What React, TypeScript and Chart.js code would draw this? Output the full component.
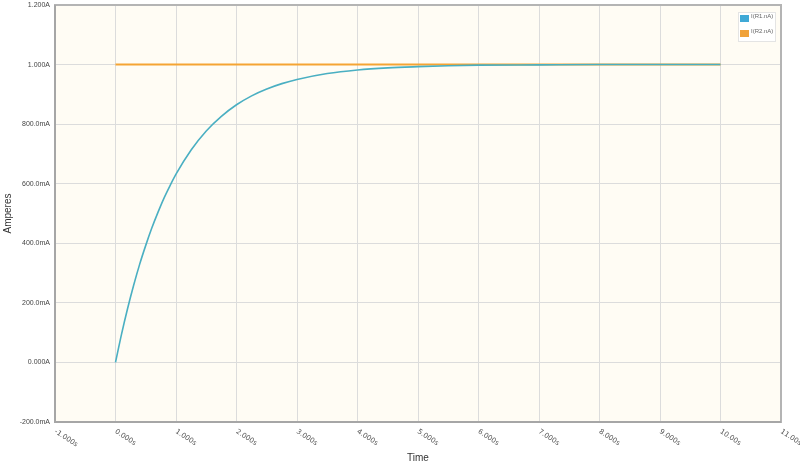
import React, { useEffect, useRef } from "react";
import { Chart, registerables } from "chart.js";

Chart.register(...registerables);

const timeR1 = [0, 0.1, 0.2, 0.3, 0.4, 0.5, 0.6, 0.7, 0.8, 0.9, 1.0, 1.25, 1.5, 1.75, 2.0, 2.25, 2.5, 2.75, 3.0, 3.5, 4.0, 4.5, 5.0, 5.5, 6.0, 7.0, 8.0, 9.0, 10.0];
const currentR1 = [0, 0.095, 0.181, 0.259, 0.33, 0.393, 0.451, 0.503, 0.551, 0.593, 0.632, 0.713, 0.777, 0.826, 0.865, 0.895, 0.918, 0.936, 0.95, 0.97, 0.982, 0.989, 0.993, 0.996, 0.998, 0.999, 1.0, 1.0, 1.0];
const timeR2 = [0, 10];
const currentR2 = [1.0, 1.0];
const seriesLabels = ["I(R1.nA)", "I(R2.nA)"];

const xTickValues = [-1, 0, 1, 2, 3, 4, 5, 6, 7, 8, 9, 10, 11];
const xTickLabels = ["-1.000s", "0.000s", "1.000s", "2.000s", "3.000s", "4.000s", "5.000s", "6.000s", "7.000s", "8.000s", "9.000s", "10.00s", "11.00s"];
const yTickValues = [-0.2, 0, 0.2, 0.4, 0.6, 0.8, 1.0, 1.2];
const yTickLabels = ["-200.0mA", "0.000A", "200.0mA", "400.0mA", "600.0mA", "800.0mA", "1.000A", "1.200A"];

const lineColors = ["#4AAFC2", "#F5A433"];
const legendColors = ["#3FA9D6", "#F0A23A"];

function labelFor(values: number[], labels: string[], v: number) {
  const i = values.findIndex((t) => Math.abs(t - v) < 1e-6);
  return i >= 0 ? labels[i] : "";
}

const framePlugin = {
  id: "frameAndExtras",
  beforeDraw(chart: any) {
    const { ctx, chartArea: a } = chart;
    ctx.save();
    ctx.fillStyle = "#FFFCF4";
    ctx.fillRect(a.left, a.top, a.right - a.left, a.bottom - a.top);
    ctx.restore();
  },
  afterDraw(chart: any) {
    const { ctx, chartArea: a } = chart;
    ctx.save();
    ctx.strokeStyle = "#B4B4B4";
    ctx.lineWidth = 2;
    ctx.strokeRect(a.left, a.top, a.right - a.left, a.bottom - a.top);
    ctx.strokeStyle = "#A6A6A6";
    ctx.beginPath();
    ctx.moveTo(a.left, a.top);
    ctx.lineTo(a.left, a.bottom);
    ctx.lineTo(a.right, a.bottom);
    ctx.stroke();

    const xs = chart.scales.x;
    ctx.fillStyle = "#555";
    ctx.font = "7px 'DejaVu Sans'";
    ctx.textAlign = "left";
    ctx.textBaseline = "middle";
    xTickValues.forEach((v, i) => {
      const px = xs.getPixelForValue(v);
      ctx.save();
      ctx.translate(px, a.bottom + 9);
      ctx.rotate((33 * Math.PI) / 180);
      ctx.fillText(xTickLabels[i], 0, 0);
      ctx.restore();
    });

    const lx = a.right - 43;
    const ly = a.top + 7;
    ctx.fillStyle = "#FFFFFF";
    ctx.fillRect(lx, ly, 37, 29);
    ctx.strokeStyle = "#E4E4E4";
    ctx.lineWidth = 1;
    ctx.strokeRect(lx + 0.5, ly + 0.5, 37, 29);
    ctx.font = "6px 'Liberation Sans'";
    ctx.textBaseline = "middle";
    seriesLabels.forEach((lab, i) => {
      const y = ly + 3 + i * 15;
      ctx.fillStyle = legendColors[i];
      ctx.fillRect(lx + 2, y, 9, 7);
      ctx.fillStyle = "#666";
      ctx.fillText(lab, lx + 13, y + 1);
    });
    ctx.restore();
  },
};

export default function App() {
  const ref = useRef<HTMLCanvasElement | null>(null);
  useEffect(() => {
    document.body.style.margin = "0";
    const canvas = ref.current!;
    const chart = new Chart(canvas, {
      type: "line",
      data: {
        datasets: [
          {
            label: seriesLabels[0],
            data: timeR1.map((t, i) => ({ x: t, y: currentR1[i] })),
            borderColor: lineColors[0],
            borderWidth: 1.6,
            pointRadius: 0,
            cubicInterpolationMode: "monotone",
            fill: false,
          },
          {
            label: seriesLabels[1],
            data: timeR2.map((t, i) => ({ x: t, y: currentR2[i] })),
            borderColor: lineColors[1],
            borderWidth: 2,
            pointRadius: 0,
            fill: false,
          },
        ],
      },
      plugins: [framePlugin],
      options: {
        animation: false,
        responsive: false,
        maintainAspectRatio: false,
        layout: { padding: { top: 5, right: 19, left: 0, bottom: 0 } },
        plugins: { legend: { display: false }, tooltip: { enabled: false } },
        scales: {
          x: {
            type: "linear",
            min: -1,
            max: 11,
            afterBuildTicks: (s: any) => {
              s.ticks = xTickValues.map((v) => ({ value: v }));
            },
            afterFit: (s: any) => {
              s.height = 45;
            },
            ticks: { display: false },
            grid: { color: "#DCDCDC", lineWidth: 1, drawTicks: false },
            border: { display: false },
            title: {
              display: true,
              text: "Time",
              color: "#333",
              font: { family: "'Liberation Sans'", size: 10 },
              padding: { top: 0, bottom: 3 },
            },
          },
          y: {
            type: "linear",
            min: -0.2,
            max: 1.2,
            afterBuildTicks: (s: any) => {
              s.ticks = yTickValues.map((v) => ({ value: v }));
            },
            afterFit: (s: any) => {
              s.width = 55;
              s.paddingTop = 0;
            },
            ticks: {
              color: "#444",
              font: { family: "'Liberation Sans'", size: 7 },
              padding: 5,
              callback: (v: any) => labelFor(yTickValues, yTickLabels, Number(v)),
            },
            grid: { color: "#DCDCDC", lineWidth: 1, drawTicks: false },
            border: { display: false },
            title: {
              display: true,
              text: "Amperes",
              color: "#333",
              font: { family: "'Liberation Sans'", size: 10 },
              padding: { top: 2, bottom: 0 },
            },
          },
        },
      },
    } as any);
    return () => chart.destroy();
  }, []);
  return (
    <div style={{ position: "absolute", left: 0, top: 0, width: 800, height: 467 }}>
      <canvas ref={ref} width={800} height={467} style={{ display: "block", width: 800, height: 467 }} />
    </div>
  );
}
